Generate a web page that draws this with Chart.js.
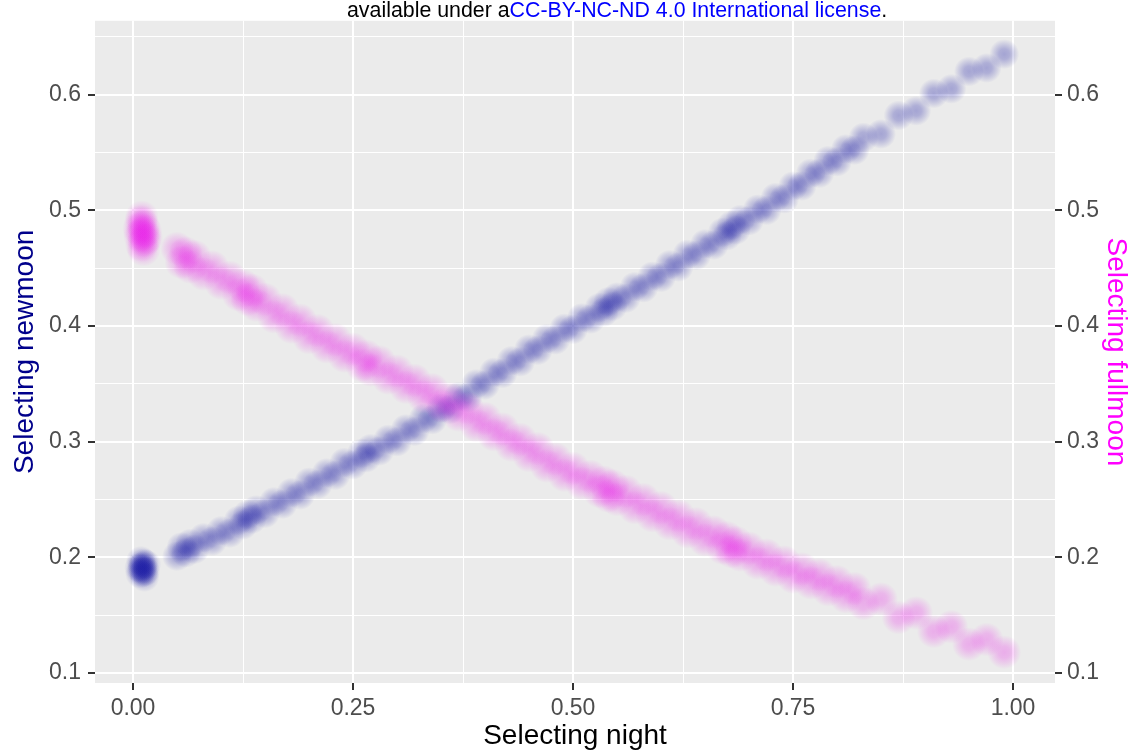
<!DOCTYPE html>
<html><head><meta charset="utf-8">
<script src="https://cdn.jsdelivr.net/npm/chart.js@4.4.0/dist/chart.umd.min.js"></script>
<style>
html,body{margin:0;padding:0;background:#fff;}
#wrap{position:relative;width:1136px;height:756px;overflow:hidden;}
#c{position:absolute;left:0;top:0;}
#hdr{position:absolute;left:347px;top:-2px;font-family:"Liberation Sans",Arial,sans-serif;font-size:21.35px;color:#000;white-space:nowrap;z-index:2;}
#hdr span{color:#0000ff;}
</style></head><body>
<div id="wrap"><canvas id="c" width="1136" height="756"></canvas><div id="hdr">available under a<span>CC-BY-NC-ND 4.0 International license</span>.</div></div>
<script>
// ---- data ----
const xTickValues = [0, 0.125, 0.25, 0.375, 0.5, 0.625, 0.75, 0.875, 1.0];
const yTickValues = [0.1, 0.15, 0.2, 0.25, 0.3, 0.35, 0.4, 0.45, 0.5, 0.55, 0.6, 0.65];

const newmoonX = [0.008,0.012,0.010,0.014,0.009,0.013,0.011,0.015,0.007,0.012,
  0.05,0.055,0.06,0.065,0.07,0.08,0.09,0.10,0.11,0.12,0.125,0.13,0.135,0.14,0.15,0.16,0.17,0.18,0.19,0.20,
  0.21,0.22,0.23,0.24,0.25,0.26,0.265,0.27,0.28,0.29,0.30,0.31,0.32,0.33,0.34,0.35,0.36,0.37,0.38,0.39,
  0.40,0.41,0.42,0.43,0.44,0.45,0.46,0.47,0.48,0.49,0.50,0.51,0.52,0.53,0.535,0.54,0.545,0.55,0.56,0.57,
  0.58,0.59,0.60,0.61,0.62,0.63,0.64,0.65,0.66,0.67,0.675,0.68,0.685,0.69,0.70,0.71,0.72,0.73,0.74,0.75,
  0.76,0.77,0.78,0.79,0.80,0.81,0.82,0.83,0.85,0.87,0.89,0.91,0.93,0.95,0.97,0.99];
const newmoonY = [0.186,0.195,0.190,0.188,0.197,0.183,0.192,0.194,0.191,0.187,
  0.201,0.209,0.204,0.212,0.207,0.217,0.214,0.223,0.221,0.232,0.228,0.237,0.233,0.241,0.238,0.248,0.246,0.256,0.254,0.265,
  0.263,0.273,0.271,0.282,0.280,0.290,0.286,0.294,0.292,0.302,0.300,0.311,0.309,0.320,0.319,0.329,0.328,0.339,0.338,0.350,
  0.349,0.360,0.359,0.370,0.369,0.380,0.379,0.389,0.388,0.398,0.397,0.407,0.406,0.416,0.412,0.421,0.417,0.425,0.424,0.434,
  0.433,0.443,0.442,0.453,0.451,0.462,0.461,0.471,0.470,0.481,0.478,0.487,0.483,0.492,0.491,0.501,0.500,0.511,0.510,0.521,
  0.521,0.532,0.532,0.543,0.542,0.553,0.552,0.563,0.566,0.582,0.586,0.601,0.605,0.620,0.623,0.635];

const fullmoonX = [0.008,0.012,0.010,0.014,0.009,0.013,0.011,0.015,0.007,0.012,0.010,
  0.05,0.055,0.06,0.065,0.07,0.08,0.09,0.10,0.11,0.12,0.125,0.13,0.135,0.14,0.15,0.16,0.17,0.18,0.19,0.20,
  0.21,0.22,0.23,0.24,0.25,0.26,0.265,0.27,0.28,0.29,0.30,0.31,0.32,0.33,0.34,0.35,0.36,0.37,0.38,0.39,
  0.40,0.41,0.42,0.43,0.44,0.45,0.46,0.47,0.48,0.49,0.50,0.51,0.52,0.53,0.535,0.54,0.545,0.55,0.56,0.57,
  0.58,0.59,0.60,0.61,0.62,0.63,0.64,0.65,0.66,0.67,0.675,0.68,0.685,0.69,0.70,0.71,0.72,0.73,0.74,0.75,
  0.76,0.77,0.78,0.79,0.80,0.81,0.82,0.83,0.85,0.87,0.89,0.91,0.93,0.95,0.97,0.99];
const fullmoonY = [0.478,0.486,0.470,0.482,0.490,0.474,0.480,0.476,0.484,0.466,0.494,
  0.467,0.455,0.463,0.451,0.460,0.445,0.451,0.437,0.442,0.427,0.435,0.423,0.431,0.418,0.423,0.408,0.414,0.399,0.405,0.390,
  0.396,0.382,0.388,0.374,0.380,0.366,0.374,0.362,0.369,0.355,0.361,0.347,0.353,0.339,0.345,0.331,0.337,0.323,0.329,0.314,
  0.320,0.306,0.311,0.297,0.302,0.288,0.294,0.279,0.285,0.271,0.277,0.264,0.270,0.257,0.265,0.253,0.262,0.250,0.257,0.243,
  0.250,0.236,0.243,0.229,0.236,0.222,0.229,0.215,0.222,0.208,0.217,0.205,0.213,0.202,0.208,0.195,0.202,0.189,0.196,0.183,
  0.190,0.178,0.185,0.172,0.179,0.166,0.173,0.160,0.164,0.148,0.152,0.136,0.140,0.125,0.129,0.118];

// ---- chart ----
const FONT = '"Liberation Sans", Arial, sans-serif';
const toPts = (xs, ys) => xs.map((x, i) => ({x: x, y: ys[i]}));
const majorX = v => Math.abs(v * 4 - Math.round(v * 4)) < 1e-6;
const majorY = v => Math.abs(v * 10 - Math.round(v * 10)) < 1e-6;

// soft-edged translucent dots (like many overlapping alpha points)
const softFill = (rgb, a, r) => c => {
  if (c.type !== 'data' || !c.raw) return `rgba(${rgb},${a})`;
  const ch = c.chart, ds = ch.data.datasets[c.datasetIndex];
  const px = ch.scales.x.getPixelForValue(c.raw.x);
  const py = ch.scales[ds.yAxisID].getPixelForValue(c.raw.y);
  if (!isFinite(px) || !isFinite(py)) return `rgba(${rgb},${a})`;
  const g = ch.ctx.createRadialGradient(px, py, 0, px, py, r);
  g.addColorStop(0, `rgba(${rgb},${a})`);
  g.addColorStop(0.35, `rgba(${rgb},${(a * 0.85).toFixed(3)})`);
  g.addColorStop(0.7, `rgba(${rgb},${(a * 0.4).toFixed(3)})`);
  g.addColorStop(1, `rgba(${rgb},0)`);
  return g;
};

const yScale = (pos, pad, title, titleColor, titlePad, width) => ({
  type: 'linear', position: pos, min: 0.0914, max: 0.6638,
  afterBuildTicks: s => { s.ticks = yTickValues.map(v => ({value: v})); },
  afterFit: s => { s.width = width; },
  border: {display: false},
  grid: {
    drawOnChartArea: pos === 'left',
    color: '#ffffff',
    lineWidth: c => (c.tick && majorY(c.tick.value)) ? 2 : 1,
    tickLength: 7,
    tickWidth: 2,
    tickColor: c => (c.tick && majorY(c.tick.value)) ? '#333333' : 'rgba(0,0,0,0)'
  },
  ticks: {
    color: '#4d4d4d', padding: pad, font: {family: FONT, size: 23},
    autoSkip: false,
    callback: v => majorY(v) ? v.toFixed(1) : ''
  },
  title: {display: true, text: title, color: titleColor, font: {family: FONT, size: 28}, padding: {top: titlePad, bottom: 0}}
});

new Chart(document.getElementById('c'), {
  type: 'scatter',
  data: {
    datasets: [
      {label: 'Selecting fullmoon', data: toPts(fullmoonX, fullmoonY), yAxisID: 'y2',
       backgroundColor: softFill('232,30,232', 0.3, 17), borderWidth: 0, pointRadius: 17, pointHoverRadius: 17, order: 0},
      {label: 'Selecting newmoon', data: toPts(newmoonX, newmoonY), yAxisID: 'y',
       backgroundColor: softFill('28,28,165', 0.34, 15), borderWidth: 0, pointRadius: 15, pointHoverRadius: 15, order: 1}
    ]
  },
  options: {
    responsive: false, animation: false, devicePixelRatio: 1,
    layout: {padding: {top: 19, left: 0, right: 0, bottom: 0}},
    plugins: {legend: {display: false}, tooltip: {enabled: false}},
    scales: {
      x: {
        type: 'linear', position: 'bottom', min: -0.0432, max: 1.0477,
        afterBuildTicks: s => { s.ticks = xTickValues.map(v => ({value: v})); },
        afterFit: s => { s.height = 73; },
        border: {display: false},
        grid: {
          color: '#ffffff',
          lineWidth: c => (c.tick && majorX(c.tick.value)) ? 2 : 1,
          tickLength: 7, tickWidth: 2,
          tickColor: c => (c.tick && majorX(c.tick.value)) ? '#333333' : 'rgba(0,0,0,0)'
        },
        ticks: {
          color: '#4d4d4d', padding: 5, font: {family: FONT, size: 23}, autoSkip: false, maxRotation: 0,
          callback: v => majorX(v) ? v.toFixed(2) : ''
        },
        title: {display: true, text: 'Selecting night', color: '#000000', font: {family: FONT, size: 28}, padding: {top: 0, bottom: 3}}
      },
      y: yScale('left', 7, 'Selecting newmoon', '#00008b', 8, 95),
      y2: yScale('right', 5, 'Selecting fullmoon', '#ff00ff', 3, 81)
    }
  },
  plugins: [{
    id: 'panelBg',
    beforeDraw(chart) {
      const a = chart.chartArea, ctx = chart.ctx;
      ctx.save(); ctx.fillStyle = '#ebebeb';
      ctx.fillRect(a.left, a.top, a.right - a.left, a.bottom - a.top);
      ctx.restore();
    }
  }]
});
</script>
</body></html>
